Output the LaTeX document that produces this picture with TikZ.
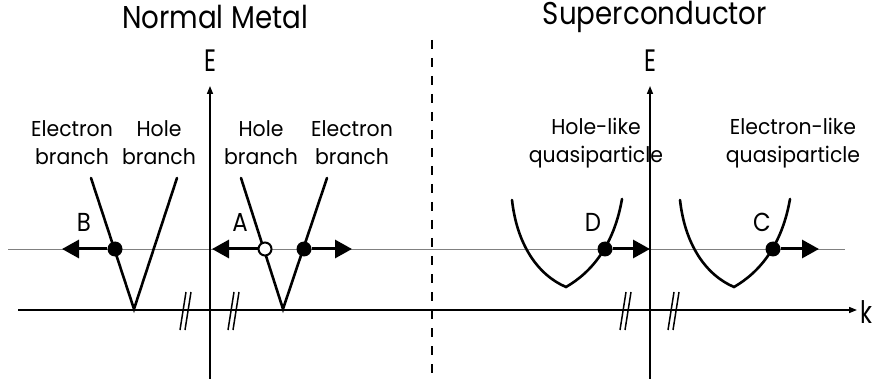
\documentclass[tikz,border=0pt]{standalone}
\usepackage{fontspec}
\setmainfont{Poppins}
\usetikzlibrary{arrows.meta}
\begin{document}
\begin{tikzpicture}[x=1pt,y=-1pt,
  title/.style={font=\fontsize{31.5}{36}\selectfont, inner sep=0pt, xscale=0.88},
  lbl/.style={font=\fontsize{21.5}{28}\selectfont, align=center, inner sep=0pt, xscale=0.95},
  axlbl/.style={font=\fontsize{31}{36}\selectfont, inner sep=0pt, xscale=0.75},
  letter/.style={font=\fontsize{26}{30}\selectfont, inner sep=0pt, xscale=0.88},
  axis/.style={line width=1.5pt, -{Triangle[length=8pt,width=6pt]}},
  branch/.style={line width=2.6pt, line cap=round},
  bigarrow/.style={line width=3pt, -{Triangle[length=17pt,width=18pt]}},
  dot/.style={circle, fill=black, minimum size=15pt, inner sep=0pt},
  odot/.style={circle, fill=white, draw=black, line width=2pt, minimum size=13pt, inner sep=0pt},
  brk/.style={line width=1.5pt}
]
\useasboundingbox (0,0) rectangle (872,379);
% titles
\node[title] (tNM) at (215,17) {Normal Metal};
\node[title] (tSC) at (655,17) {Superconductor};
% Fermi level line
\coordinate (fL) at (8,249);
\coordinate (fR) at (845,249);
\draw[gray, line width=0.9pt] (fL) -- (fR);
% dashed interface
\coordinate (dT) at (432,40);
\coordinate (dB) at (432,379);
\draw[line width=2pt, dash pattern=on 9pt off 9pt] (dT) -- (dB);
% axes
\coordinate (e1b) at (210,379);
\coordinate (e1t) at (210,86);
\coordinate (e2b) at (650,379);
\coordinate (e2t) at (650,86);
\coordinate (kL) at (18,310);
\coordinate (kR) at (857,310);
\draw[axis] (e1b) -- (e1t);
\draw[axis] (e2b) -- (e2t);
\draw[axis] (kL) -- (kR);
\node[axlbl] (E1) at (210,61) {E};
\node[axlbl] (E2) at (650,61) {E};
\node[axlbl, anchor=west] (kk) at (860,312) {k};
% break marks
\foreach \bx/\nm in {184/b1, 232/b2, 624/b3, 672/b4}{
  \coordinate (\nm a1) at (\bx-4,330);
  \coordinate (\nm a2) at (\bx+2,292);
  \coordinate (\nm b1) at (\bx+1,330);
  \coordinate (\nm b2) at (\bx+7,292);
  \draw[brk] (\nm a1) -- (\nm a2);
  \draw[brk] (\nm b1) -- (\nm b2);
}
% left V (normal metal, negative k)
\coordinate (v1l) at (91,178);
\coordinate (v1b) at (134,309);
\coordinate (v1r) at (177,178);
\draw[branch, line join=miter] (v1l) -- (v1b) -- (v1r);
% right V
\coordinate (v2l) at (241,178);
\coordinate (v2b) at (283,309);
\coordinate (v2r) at (327,178);
\draw[branch, line join=miter] (v2l) -- (v2b) -- (v2r);
% superconductor dispersions
\coordinate (p1l) at (512,200);
\coordinate (p1b) at (566,287);
\coordinate (p1r) at (622,199);
\draw[branch, line join=miter] (p1l) .. controls (517,245) and (538,275) .. (p1b)
   .. controls (592,272) and (614,245) .. (p1r);
\coordinate (p2l) at (680,200);
\coordinate (p2b) at (734,287);
\coordinate (p2r) at (790,199);
\draw[branch, line join=miter] (p2l) .. controls (685,245) and (706,275) .. (p2b)
   .. controls (760,272) and (782,245) .. (p2r);
% states and arrows
\node[dot] (B) at (115,249) {};
\coordinate (Bend) at (62,249);
\draw[bigarrow] (B) -- (Bend);
\node[odot] (Ao) at (265,249) {};
\coordinate (Aend) at (212,249);
\draw[bigarrow] (Ao) -- (Aend);
\node[dot] (Af) at (304,249) {};
\coordinate (Afend) at (352,249);
\draw[bigarrow] (Af) -- (Afend);
\node[dot] (D) at (605,249) {};
\coordinate (Dend) at (650,249);
\draw[bigarrow] (D) -- (Dend);
\node[dot] (C) at (773,249) {};
\coordinate (Cend) at (819,249);
\draw[bigarrow] (C) -- (Cend);
% letters
\node[letter] (lB) at (84,222) {B};
\node[letter] (lA) at (240,222) {A};
\node[letter] (lD) at (593,222) {D};
\node[letter] (lC) at (762,222) {C};
% branch labels
\node[lbl] (l1) at (72,143) {Electron\\branch};
\node[lbl] (l2) at (159,143) {Hole\\branch};
\node[lbl] (l3) at (261,143) {Hole\\branch};
\node[lbl] (l4) at (352,143) {Electron\\branch};
\node[lbl] (l5) at (596,143) {Hole-like\\quasiparticle};
\node[lbl] (l6) at (793,143) {Electron-like\\quasiparticle};
\end{tikzpicture}
\end{document}
